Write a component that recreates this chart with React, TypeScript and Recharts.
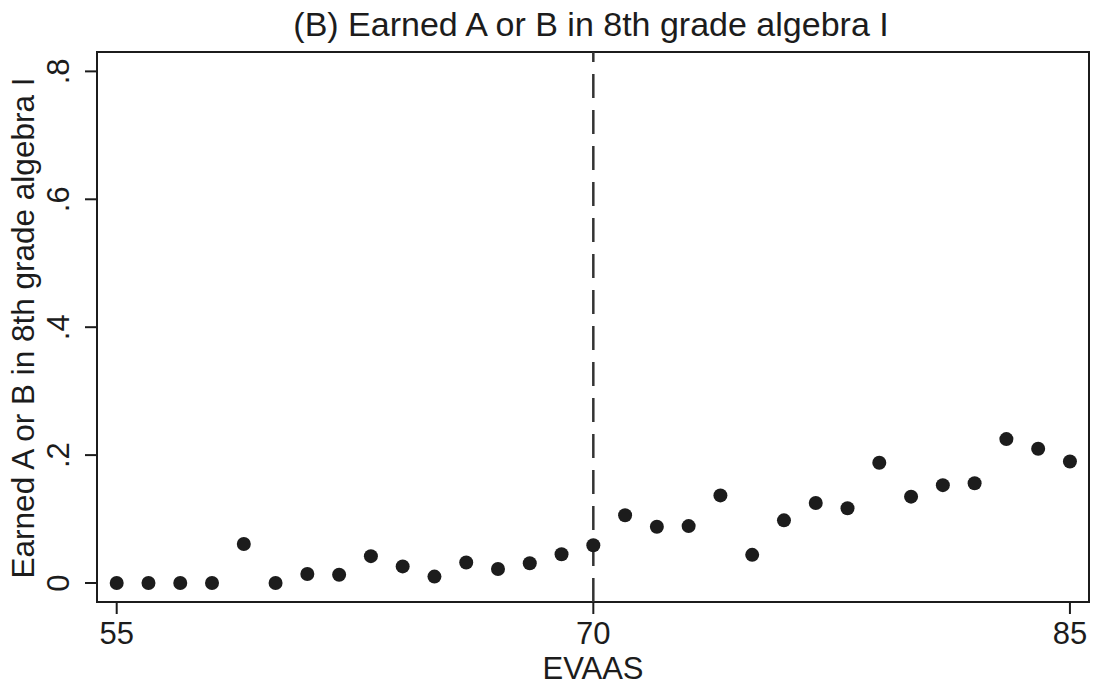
import React from 'react';
import { ScatterChart, Scatter, XAxis, YAxis, ReferenceLine, ReferenceArea } from 'recharts';

const evaas = [55, 56, 57, 58, 59, 60, 61, 62, 63, 64, 65, 66, 67, 68, 69, 70, 71, 72, 73, 74, 75, 76, 77, 78, 79, 80, 81, 82, 83, 84, 85];
const shareAB = [
  0, 0, 0, 0, 0.061, 0, 0.014, 0.013, 0.042, 0.026, 0.01,
  0.032, 0.022, 0.031, 0.045, 0.059, 0.106, 0.088, 0.089, 0.137, 0.044,
  0.098, 0.125, 0.117, 0.188, 0.135, 0.153, 0.156, 0.225, 0.21, 0.19,
];
const xTicks = [55, 70, 85];
const yTicks = [0, 0.2, 0.4, 0.6, 0.8];
const cutoff = 70;

const points = evaas.map((x, i) => ({ x, y: shareAB[i] }));

const X_MIN = 54.38;
const X_MAX = 85.6;
const Y_MIN = -0.0297;
const Y_MAX = 0.8303;

const FONT = '"Liberation Sans", Arial, Helvetica, sans-serif';
const INK = '#1c1c1c';

const fmtY = (v: number) => (v === 0 ? '0' : String(v).replace('0.', '.'));

function YTick(props: any) {
  const { x, y, payload } = props;
  return (
    <text
      x={x}
      y={y}
      transform={`rotate(-90, ${x}, ${y})`}
      textAnchor="middle"
      fontSize={31}
      fontFamily={FONT}
      fill={INK}
    >
      {fmtY(payload.value)}
    </text>
  );
}

function YLabel(props: any) {
  const vb = props.viewBox || { x: 0, y: 52, width: 97, height: 550 };
  const cx = vb.x + 34;
  const cy = vb.y + vb.height / 2 + 1;
  return (
    <text
      x={cx}
      y={cy}
      transform={`rotate(-90, ${cx}, ${cy})`}
      textAnchor="middle"
      fontSize={31.5}
      fontFamily={FONT}
      fill={INK}
    >
      Earned A or B in 8th grade algebra I
    </text>
  );
}

function Dot(props: any) {
  return <circle cx={props.cx} cy={props.cy} r={7} fill={INK} />;
}

export default function App() {
  return (
    <div style={{ position: 'absolute', left: 0, top: 0, width: 1095, height: 687, background: '#fff' }}>
      <svg width={1095} height={52} style={{ position: 'absolute', left: 0, top: 0 }}>
        <text x={591} y={36} textAnchor="middle" fontSize={34} fontFamily={FONT} fill={INK}>
          (B) Earned A or B in 8th grade algebra I
        </text>
      </svg>
      <ScatterChart width={1095} height={687} margin={{ top: 52, right: 6, bottom: 0, left: 0 }}>
        <XAxis
          type="number"
          dataKey="x"
          domain={[X_MIN, X_MAX]}
          ticks={xTicks}
          allowDataOverflow
          height={85}
          axisLine={false}
          tickSize={12}
          tickMargin={8}
          tickLine={{ stroke: INK, strokeWidth: 2 }}
          tick={{ fontSize: 31, fontFamily: FONT, fill: INK }}
          label={{ value: 'EVAAS', position: 'insideBottom', offset: 8, fontSize: 31, fontFamily: FONT, fill: INK }}
        />
        <YAxis
          type="number"
          dataKey="y"
          domain={[Y_MIN, Y_MAX]}
          ticks={yTicks}
          allowDataOverflow
          width={97}
          axisLine={false}
          tickSize={12}
          tickMargin={16}
          tickLine={{ stroke: INK, strokeWidth: 2 }}
          tick={<YTick />}
          label={<YLabel />}
        />
        <ReferenceArea
          x1={X_MIN}
          x2={X_MAX}
          y1={Y_MIN}
          y2={Y_MAX}
          fill="none"
          stroke={INK}
          strokeWidth={2}
          ifOverflow="visible"
        />
        <ReferenceLine x={cutoff} stroke="#333" strokeWidth={2.5} strokeDasharray="24 12" />
        <Scatter data={points} shape={<Dot />} isAnimationActive={false} />
      </ScatterChart>
    </div>
  );
}
